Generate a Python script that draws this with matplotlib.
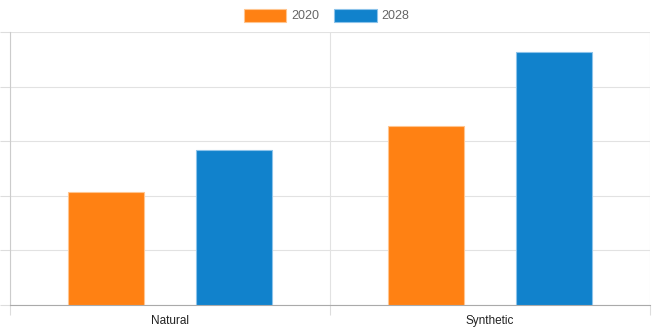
import matplotlib.pyplot as plt
import numpy as np

categories = ['Natural', 'Synthetic']
series_names = ['2020', '2028']
values_2020 = [2.07, 3.27]
values_2028 = [2.84, 4.64]
colors = ['#ff8113', '#1182cc']
edge_colors = ['#ffc58f', '#8cc3ea']

plt.rcParams['font.family'] = ['Liberation Sans', 'DejaVu Sans']

fig = plt.figure(figsize=(6.53, 3.36), dpi=100)
ax = fig.add_axes([10 / 653, 31 / 336, 640 / 653, 273 / 336])

x = np.arange(len(categories)) + 0.5
width = 0.24
offset = 0.2
ax.bar(x - offset, values_2020, width, color=colors[0], edgecolor=edge_colors[0],
       linewidth=0.8, label=series_names[0], zorder=3)
ax.bar(x + offset, values_2028, width, color=colors[1], edgecolor=edge_colors[1],
       linewidth=0.8, label=series_names[1], zorder=3)

ax.set_xlim(0, len(categories))
ax.set_ylim(0, 5)

# сетка и оси
ax.set_xticks(np.arange(len(categories) + 1))
ax.set_xticklabels([])
ax.set_xticks(x, minor=True)
ax.set_xticklabels(categories, minor=True, fontsize=8.5, color='#222222')
ax.tick_params(axis='x', which='minor', length=0, pad=7)
ax.tick_params(axis='x', which='major', length=7.5, color='#dddddd', width=0.8)
ax.set_yticks(np.arange(0, 6))
ax.set_yticklabels([])
ax.tick_params(axis='y', length=7.5, color='#dddddd', width=0.8)
ax.grid(True, color='#e2e2e2', linewidth=0.8, zorder=0)

for side in ['top', 'right']:
    ax.spines[side].set_visible(False)
ax.spines['left'].set_color('#cccccc')
ax.spines['left'].set_linewidth(0.8)
ax.spines['bottom'].set_color('#aaaaaa')
ax.spines['bottom'].set_linewidth(0.8)

leg = fig.legend(loc='upper center', bbox_to_anchor=(0.5, 1.0), ncol=2, frameon=False,
                 fontsize=9, handlelength=3.4, handleheight=1.2, columnspacing=1.2,
                 handletextpad=0.4, labelcolor='#666666', borderaxespad=0.3)

fig.savefig('out.png', dpi=100)
